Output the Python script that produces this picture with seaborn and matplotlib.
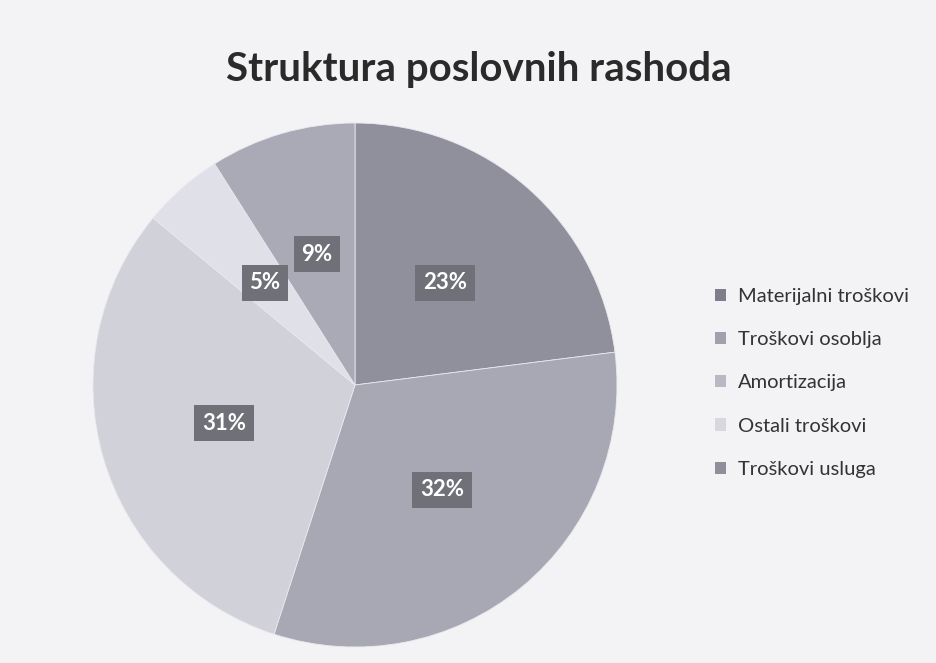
import matplotlib
matplotlib.use("Agg")
import matplotlib.pyplot as plt
import seaborn as sns
from matplotlib.patches import Patch

sns.set_theme(style="white")
plt.rcParams['font.family'] = ['Lato', 'DejaVu Sans']

# data
categories = ["Materijalni troškovi", "Troškovi osoblja", "Amortizacija",
              "Ostali troškovi", "Troškovi usluga"]
shares = [23, 32, 31, 5, 9]
slice_colors = ["#8f909c", "#a7a8b4", "#d0d1d9", "#e0e1e8", "#a9aab6"]
legend_colors = ["#7d7e8a", "#a0a1ae", "#b8b9c4", "#d6d7df", "#8e8f9b"]

fig = plt.figure(figsize=(9.36, 6.63), dpi=100)
fig.patch.set_facecolor("#f3f3f5")

# pie axes: centre ~ (355, 385) px, radius ~ 260 px
ax = fig.add_axes([(355 - 262) / 936, (663 - 385 - 262) / 663, 524 / 936, 524 / 663])
wedges, texts, autotexts = ax.pie(
    shares, colors=slice_colors, startangle=90, counterclock=False,
    autopct='%d%%', pctdistance=0.52, radius=1.0,
    wedgeprops=dict(linewidth=0.6, edgecolor="#e8e8ee"),
    textprops=dict(color="white", fontsize=16, fontweight="bold"),
)
for t in autotexts:
    t.set_bbox(dict(boxstyle="square,pad=0.35", facecolor="#707079",
                    edgecolor="none"))
ax.set_aspect("equal")
ax.set_xlim(-1.0, 1.0)
ax.set_ylim(-1.0, 1.0)

fig.text(479 / 936, 1 - 70 / 663, "Struktura poslovnih rashoda",
         ha="center", va="center", fontsize=29, fontweight="bold",
         color="#2a2a2a")

handles = [Patch(facecolor=c, edgecolor="none") for c in legend_colors]
fig.legend(handles, categories, loc="center left",
           bbox_to_anchor=(697 / 936, 1 - 383 / 663), frameon=False,
           fontsize=14.5, handlelength=0.55, handleheight=0.55,
           handletextpad=0.6, labelspacing=1.3, labelcolor="#333333")

fig.savefig("out.png", dpi=100, facecolor=fig.get_facecolor())
